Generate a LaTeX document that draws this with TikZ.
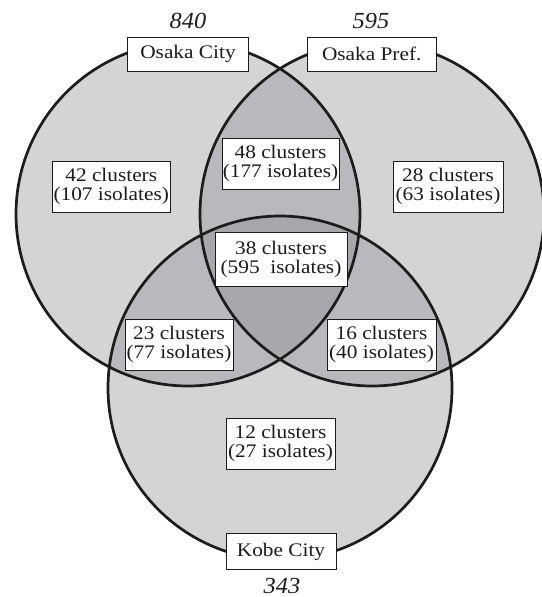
\documentclass[tikz,border=0pt]{standalone}
\usepackage{fontspec}
\setmainfont{Liberation Serif}
\newfontfamily\widefont[FakeStretch=1.11]{Liberation Serif}
\newfontfamily\wideital[FakeStretch=1.06]{Liberation Serif Italic}
\definecolor{cone}{RGB}{211,212,214}
\definecolor{ctwo}{RGB}{184,185,188}
\definecolor{cthree}{RGB}{167,168,171}
\definecolor{ink}{RGB}{28,28,28}
\begin{document}
\begin{tikzpicture}[x=1pt,y=-1pt,
  ring/.style={draw=ink,line width=2.7pt},
  lbl/.style={draw=ink,fill=white,line width=0.9pt,inner sep=0pt,align=center,
    text=ink,font=\widefont\fontsize{19.2}{19}\selectfont},
  num/.style={text=ink,font=\wideital\fontsize{23}{23}\selectfont,inner sep=0pt}]
\useasboundingbox (0,0) rectangle (541,597);
\coordinate (cL) at (188,214);
\coordinate (cR) at (372,214);
\coordinate (cB) at (280,388);
\def\rr{172}
% fills
\fill[cone] (cL) circle (\rr) (cR) circle (\rr) (cB) circle (\rr);
\begin{scope}\clip (cL) circle (\rr); \fill[ctwo] (cR) circle (\rr); \fill[ctwo] (cB) circle (\rr);\end{scope}
\begin{scope}\clip (cR) circle (\rr); \fill[ctwo] (cB) circle (\rr);\end{scope}
\begin{scope}\clip (cL) circle (\rr); \clip (cR) circle (\rr); \fill[cthree] (cB) circle (\rr);\end{scope}
% outlines
\draw[ring] (cL) circle (\rr);
\draw[ring] (cR) circle (\rr);
\draw[ring] (cB) circle (\rr);
% labels
\node[lbl,minimum width=121pt,minimum height=34pt] (oc) at (188,54) {Osaka City};
\node[lbl,minimum width=129.5pt,minimum height=34pt] (op) at (371.75,54) {Osaka Pref.};
\node[lbl,minimum width=110pt,minimum height=36pt] (kc) at (281,551.5) {Kobe City};
\node[num] (n840) at (188,21) {840};
\node[num] (n595) at (371,21) {595};
\node[num] (n343) at (282,586) {343};
\node[lbl,minimum width=117.5pt,minimum height=51pt] (r42) at (111.25,186.5) {42 clusters\\(107 isolates)};
\node[lbl,minimum width=117pt,minimum height=51pt] (r48) at (280.5,163.5) {48 clusters\\(177 isolates)};
\node[lbl,minimum width=110pt,minimum height=51pt] (r28) at (448,186.5) {28 clusters\\(63 isolates)};
\node[lbl,minimum width=132pt,minimum height=54pt] (r38) at (281,259) {38 clusters\\(595\ \ isolates)};
\node[lbl,minimum width=108pt,minimum height=51pt] (r23) at (179,344.5) {23 clusters\\(77 isolates)};
\node[lbl,minimum width=109pt,minimum height=51pt] (r16) at (381.5,344.5) {16 clusters\\(40 isolates)};
\node[lbl,minimum width=109pt,minimum height=51pt] (r12) at (280.5,443.5) {12 clusters\\(27 isolates)};
\end{tikzpicture}
\end{document}
